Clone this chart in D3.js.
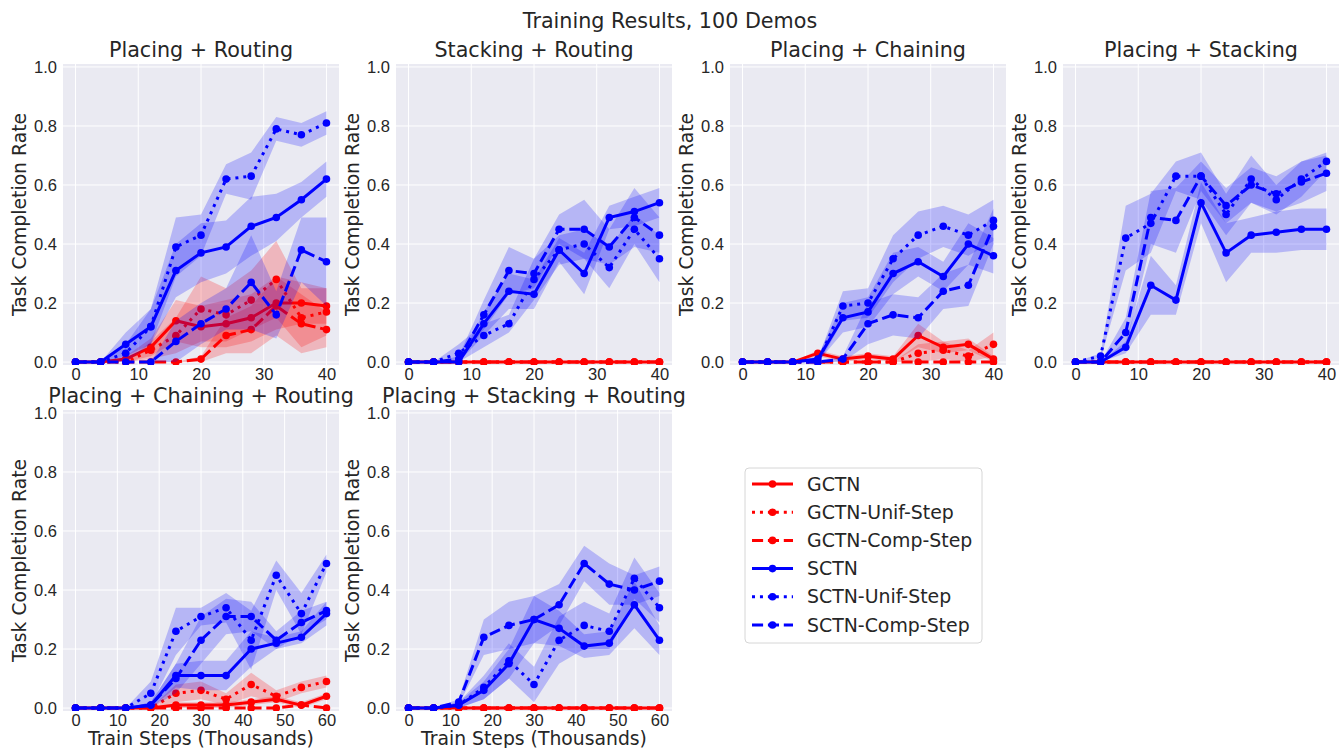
<!DOCTYPE html>
<html>
<head>
<meta charset="utf-8">
<script src="https://cdn.jsdelivr.net/npm/d3@7"></script>
<style>
  body { margin: 0; background: #fff; }
  svg { font-family: "DejaVu Sans", sans-serif; }
  .tick text { fill: #262626; font-size: 16.5px; }
</style>
</head>
<body>
<svg id="chart" width="1341" height="748"></svg>
<script>
// x values (thousands of train steps)
const stepsTop = [0, 4, 8, 12, 16, 20, 24, 28, 32, 36, 40];
const stepsBottom = [0, 6, 12, 18, 24, 30, 36, 42, 48, 54, 60];

const seriesNames = ["GCTN", "GCTN-Unif-Step", "GCTN-Comp-Step", "SCTN", "SCTN-Unif-Step", "SCTN-Comp-Step"];
const panelTitles = ["Placing + Routing", "Stacking + Routing", "Placing + Chaining", "Placing + Stacking",
  "Placing + Chaining + Routing", "Placing + Stacking + Routing"];
const yTicks = [0, 0.2, 0.4, 0.6, 0.8, 1.0];

const zeros = [0, 0, 0, 0, 0, 0, 0, 0, 0, 0, 0];

// rows follow seriesNames order
const meanPlacingRouting = [
  [0, 0, 0.01, 0.05, 0.14, 0.12, 0.13, 0.15, 0.20, 0.20, 0.19],
  [0, 0, 0, 0.04, 0.09, 0.18, 0.16, 0.21, 0.28, 0.15, 0.17],
  [0, 0, 0, 0, 0, 0.01, 0.09, 0.11, 0.19, 0.13, 0.11],
  [0, 0, 0.06, 0.12, 0.31, 0.37, 0.39, 0.46, 0.49, 0.55, 0.62],
  [0, 0, 0.03, 0.12, 0.39, 0.43, 0.62, 0.63, 0.79, 0.77, 0.81],
  [0, 0, 0, 0, 0.07, 0.13, 0.18, 0.27, 0.16, 0.38, 0.34]
];
const errPlacingRouting = [
  [0, 0, 0.01, 0.03, 0.07, 0.07, 0.08, 0.08, 0.09, 0.07, 0.06],
  [0, 0, 0, 0.03, 0.06, 0.11, 0.09, 0.10, 0.13, 0.10, 0.08],
  [0, 0, 0, 0, 0, 0.01, 0.06, 0.08, 0.10, 0.10, 0.06],
  [0, 0, 0.04, 0.06, 0.09, 0.10, 0.09, 0.10, 0.08, 0.06, 0.06],
  [0, 0, 0.03, 0.06, 0.10, 0.07, 0.05, 0.08, 0.04, 0.04, 0.04],
  [0, 0, 0, 0, 0.07, 0.07, 0.07, 0.16, 0.08, 0.11, 0.15]
];

const meanStackingRouting = [
  zeros, zeros, zeros,
  [0, 0, 0, 0.13, 0.24, 0.23, 0.38, 0.30, 0.49, 0.51, 0.54],
  [0, 0, 0.03, 0.09, 0.13, 0.28, 0.38, 0.40, 0.32, 0.45, 0.35],
  [0, 0, 0.01, 0.16, 0.31, 0.30, 0.45, 0.45, 0.39, 0.49, 0.43]
];
const errStackingRouting = [
  zeros, zeros, zeros,
  [0, 0, 0, 0.04, 0.06, 0.05, 0.04, 0.07, 0.04, 0.05, 0.05],
  [0, 0, 0.03, 0.04, 0.03, 0.07, 0.05, 0.05, 0.07, 0.05, 0.08],
  [0, 0, 0.01, 0.05, 0.08, 0.05, 0.05, 0.10, 0.06, 0.10, 0.06]
];

const meanPlacingChaining = [
  [0, 0, 0, 0.03, 0.01, 0.02, 0.01, 0.09, 0.05, 0.06, 0.01],
  [0, 0, 0, 0, 0, 0, 0, 0.03, 0.04, 0.02, 0.06],
  zeros,
  [0, 0, 0, 0.01, 0.15, 0.17, 0.30, 0.34, 0.29, 0.40, 0.36],
  [0, 0, 0, 0, 0.19, 0.20, 0.35, 0.43, 0.46, 0.43, 0.48],
  [0, 0, 0, 0, 0.01, 0.13, 0.16, 0.15, 0.24, 0.26, 0.46]
];
const errPlacingChaining = [
  [0, 0, 0, 0.01, 0.01, 0.01, 0.01, 0.04, 0.02, 0.02, 0.01],
  [0, 0, 0, 0, 0, 0, 0, 0.03, 0.03, 0.02, 0.04],
  zeros,
  [0, 0, 0, 0.01, 0.05, 0.05, 0.07, 0.05, 0.05, 0.07, 0.06],
  [0, 0, 0, 0.01, 0.05, 0.05, 0.08, 0.08, 0.07, 0.07, 0.07],
  [0, 0, 0, 0, 0.01, 0.07, 0.07, 0.07, 0.06, 0.07, 0.06]
];

const meanPlacingStacking = [
  zeros, zeros, zeros,
  [0, 0, 0.05, 0.26, 0.21, 0.54, 0.37, 0.43, 0.44, 0.45, 0.45],
  [0, 0.02, 0.42, 0.47, 0.63, 0.63, 0.50, 0.62, 0.55, 0.62, 0.68],
  [0, 0, 0.10, 0.49, 0.48, 0.63, 0.53, 0.60, 0.57, 0.61, 0.64]
];
const errPlacingStacking = [
  zeros, zeros, zeros,
  [0, 0, 0.02, 0.10, 0.05, 0.07, 0.10, 0.06, 0.07, 0.07, 0.07],
  [0, 0.01, 0.11, 0.10, 0.05, 0.08, 0.07, 0.08, 0.05, 0.06, 0.03],
  [0, 0, 0.05, 0.09, 0.11, 0.05, 0.06, 0.06, 0.06, 0.07, 0.06]
];

const meanPlacingChainingRouting = [
  [0, 0, 0, 0, 0.01, 0.01, 0.01, 0.02, 0.03, 0.01, 0.04],
  [0, 0, 0, 0, 0.05, 0.06, 0.03, 0.08, 0.04, 0.07, 0.09],
  [0, 0, 0, 0, 0, 0, 0, 0, 0, 0.01, 0],
  [0, 0, 0, 0.01, 0.11, 0.11, 0.11, 0.20, 0.22, 0.24, 0.32],
  [0, 0, 0, 0.05, 0.26, 0.31, 0.34, 0.23, 0.45, 0.32, 0.49],
  [0, 0, 0, 0.01, 0.10, 0.23, 0.31, 0.31, 0.23, 0.29, 0.33]
];
const errPlacingChainingRouting = [
  [0, 0, 0, 0, 0.01, 0.01, 0.01, 0.01, 0.01, 0.01, 0.01],
  [0, 0, 0, 0, 0.03, 0.03, 0.02, 0.04, 0.02, 0.02, 0.02],
  zeros,
  [0, 0, 0, 0.01, 0.04, 0.05, 0.05, 0.06, 0.02, 0.02, 0.04],
  [0, 0, 0, 0.04, 0.08, 0.03, 0.05, 0.10, 0.05, 0.07, 0.03],
  [0, 0, 0, 0.01, 0.05, 0.08, 0.06, 0.05, 0.03, 0.04, 0.03]
];

const meanPlacingStackingRouting = [
  zeros, zeros, zeros,
  [0, 0, 0.01, 0.06, 0.15, 0.30, 0.27, 0.21, 0.22, 0.35, 0.23],
  [0, 0, 0.01, 0.07, 0.16, 0.08, 0.23, 0.28, 0.26, 0.44, 0.34],
  [0, 0, 0.02, 0.24, 0.28, 0.30, 0.35, 0.49, 0.42, 0.40, 0.43]
];
const errPlacingStackingRouting = [
  zeros, zeros, zeros,
  [0, 0, 0.01, 0.03, 0.05, 0.08, 0.06, 0.04, 0.04, 0.08, 0.05],
  [0, 0, 0.01, 0.04, 0.06, 0.06, 0.08, 0.08, 0.06, 0.07, 0.05],
  [0, 0, 0.01, 0.06, 0.08, 0.08, 0.07, 0.06, 0.07, 0.05, 0.05]
];

const means = [meanPlacingRouting, meanStackingRouting, meanPlacingChaining, meanPlacingStacking,
  meanPlacingChainingRouting, meanPlacingStackingRouting];
const errs = [errPlacingRouting, errStackingRouting, errPlacingChaining, errPlacingStacking,
  errPlacingChainingRouting, errPlacingStackingRouting];

// styling per series
const seriesColor = ["#ff0000", "#ff0000", "#ff0000", "#0000ff", "#0000ff", "#0000ff"];
const lw = 3;
const seriesDash = [null, `${lw * 1},${lw * 1.65}`, `${lw * 3.7},${lw * 1.6}`,
  null, `${lw * 1},${lw * 1.65}`, `${lw * 3.7},${lw * 1.6}`];

const textColor = "#262626";
const svg = d3.select("#chart");

svg.append("text")
  .attr("x", 670).attr("y", 28)
  .attr("text-anchor", "middle")
  .attr("fill", textColor)
  .style("font-size", "20.7px")
  .text("Training Results, 100 Demos");

const colLeft = [63, 396, 730, 1063];
const rowTop = [64, 410];
const plotW = 276;
const plotH = 301;

panelTitles.forEach((title, i) => {
  const row = i < 4 ? 0 : 1;
  const col = i < 4 ? i : i - 4;
  const steps = row === 0 ? stepsTop : stepsBottom;
  const xMax = d3.max(steps);
  const pad = xMax * 0.05;

  const g = svg.append("g")
    .attr("transform", `translate(${colLeft[col]},${rowTop[row]})`);

  const x = d3.scaleLinear().domain([-pad, xMax + pad]).range([0, plotW]);
  const y = d3.scaleLinear().domain([-0.01, 1.01]).range([plotH, 0]);

  g.append("rect")
    .attr("width", plotW).attr("height", plotH)
    .attr("fill", "#eaeaf2");

  const clipId = `clip${i}`;
  g.append("clipPath").attr("id", clipId)
    .append("rect").attr("width", plotW).attr("height", plotH);

  const xTicks = d3.range(0, xMax + 1, 10);

  // grid
  g.append("g")
    .selectAll("line")
    .data(xTicks)
    .join("line")
    .attr("x1", d => x(d)).attr("x2", d => x(d))
    .attr("y1", 0).attr("y2", plotH)
    .attr("stroke", "#fff").attr("stroke-width", 1);
  g.append("g")
    .selectAll("line")
    .data(yTicks)
    .join("line")
    .attr("x1", 0).attr("x2", plotW)
    .attr("y1", d => y(d)).attr("y2", d => y(d))
    .attr("stroke", "#fff").attr("stroke-width", 1);

  // axes
  const xAxis = d3.axisBottom(x).tickValues(xTicks).tickSize(0).tickPadding(3).tickFormat(d3.format("d"));
  const yAxis = d3.axisLeft(y).tickValues(yTicks).tickSize(0).tickPadding(6).tickFormat(d3.format(".1f"));

  g.append("g")
    .attr("transform", `translate(0,${plotH})`)
    .call(xAxis)
    .call(a => a.select(".domain").remove());

  g.append("g")
    .call(yAxis)
    .call(a => a.select(".domain").remove());

  g.append("text")
    .attr("x", plotW / 2).attr("y", -7)
    .attr("text-anchor", "middle")
    .attr("fill", textColor)
    .style("font-size", "20.7px")
    .text(title);

  g.append("text")
    .attr("transform", `translate(-37,${plotH / 2}) rotate(-90)`)
    .attr("text-anchor", "middle")
    .attr("fill", textColor)
    .style("font-size", "18.8px")
    .text("Task Completion Rate");

  if (row === 1) {
    g.append("text")
      .attr("x", plotW / 2).attr("y", plotH + 34)
      .attr("text-anchor", "middle")
      .attr("fill", textColor)
      .style("font-size", "18.8px")
      .text("Train Steps (Thousands)");
  }

  const data = g.append("g").attr("clip-path", `url(#${clipId})`);

  seriesNames.forEach((name, s) => {
    const pts = steps.map((t, k) => ({ t, m: means[i][s][k], e: errs[i][s][k] }));

    data.append("path")
      .datum(pts)
      .attr("fill", seriesColor[s])
      .attr("fill-opacity", 0.22)
      .attr("d", d3.area()
        .x(d => x(d.t))
        .y0(d => y(d.m - d.e))
        .y1(d => y(d.m + d.e)));

    data.append("path")
      .datum(pts)
      .attr("fill", "none")
      .attr("stroke", seriesColor[s])
      .attr("stroke-width", lw)
      .attr("stroke-dasharray", seriesDash[s])
      .attr("d", d3.line().x(d => x(d.t)).y(d => y(d.m)));

    data.append("g")
      .selectAll("circle")
      .data(pts)
      .join("circle")
      .attr("cx", d => x(d.t))
      .attr("cy", d => y(d.m))
      .attr("r", 3.8)
      .attr("fill", seriesColor[s]);
  });
});

// legend
const legend = svg.append("g").attr("transform", "translate(745,468)");
legend.append("rect")
  .attr("width", 237).attr("height", 175)
  .attr("rx", 4)
  .attr("fill", "#fff")
  .attr("stroke", "#d6d6d6");

seriesNames.forEach((name, s) => {
  const yy = 16 + s * 28.2;
  const item = legend.append("g").attr("transform", `translate(0,${yy})`);
  item.append("line")
    .attr("x1", 7).attr("x2", 48)
    .attr("stroke", seriesColor[s])
    .attr("stroke-width", lw)
    .attr("stroke-dasharray", seriesDash[s]);
  item.append("circle")
    .attr("cx", 27.5).attr("r", 3.8)
    .attr("fill", seriesColor[s]);
  item.append("text")
    .attr("x", 62).attr("dy", "0.35em")
    .attr("fill", textColor)
    .style("font-size", "18.9px")
    .text(name);
});
</script>
</body>
</html>
